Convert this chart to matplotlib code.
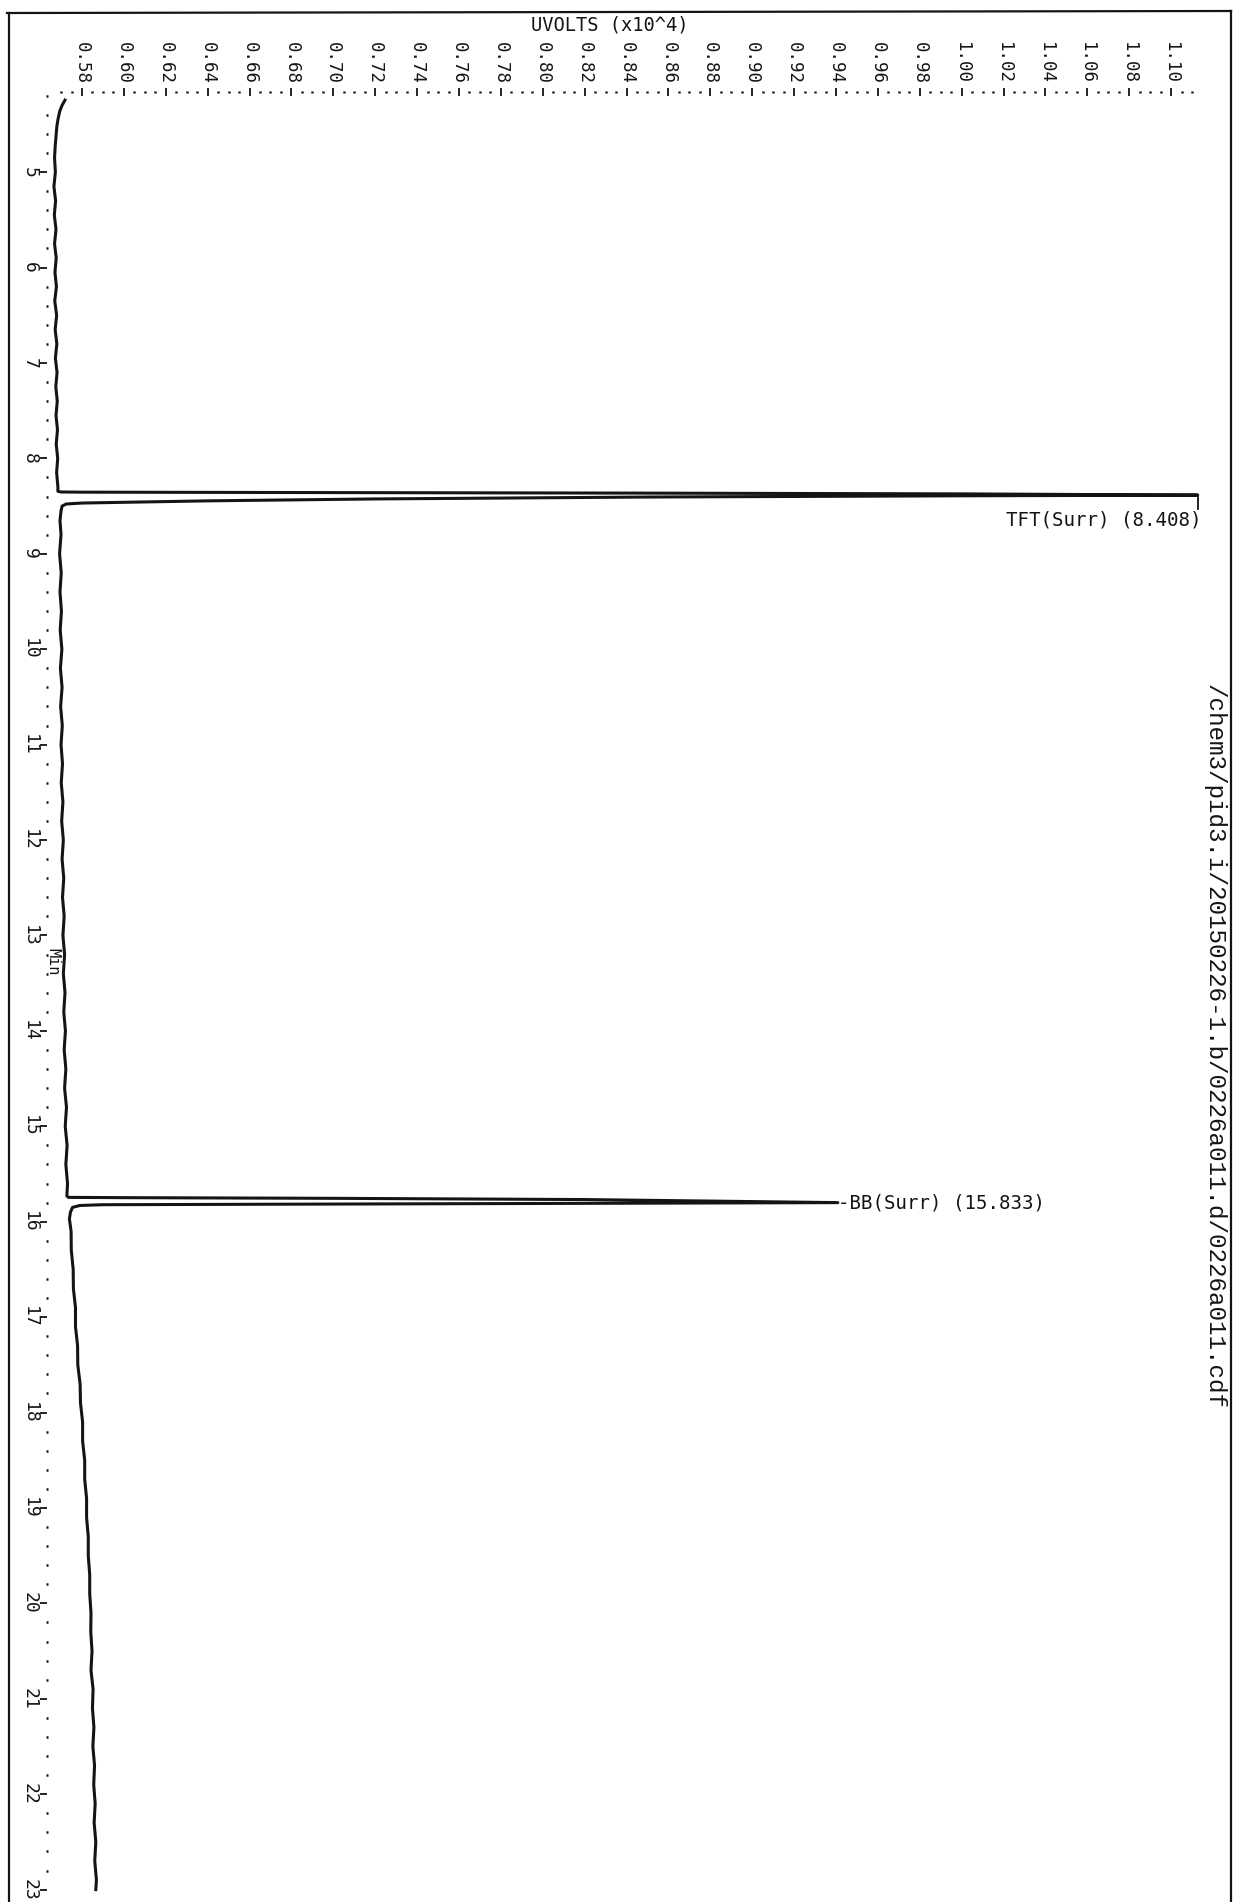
import numpy as np
import matplotlib
matplotlib.use("Agg")
import matplotlib.pyplot as plt
from matplotlib.lines import Line2D

W, H = 1236, 1902
MONO = "DejaVu Sans Mono"
INK = "#141414"

# chromatogram trace, time [min] vs signal [uV x10^4]
start_t = [4.245, 4.30, 4.36, 4.44, 4.52, 4.62, 4.73, 4.85, 5.00, 5.15, 5.30, 5.45,
           5.60, 5.75, 5.90, 6.05, 6.20, 6.35, 6.50, 6.65, 6.80, 6.95, 7.10, 7.25,
           7.40, 7.55, 7.70, 7.85, 8.00, 8.15, 8.30, 8.345]
start_uv = [0.5719, 0.5705, 0.5694, 0.5686, 0.5680, 0.5676, 0.5672, 0.5669, 0.5673, 0.5666,
            0.5674, 0.5668, 0.5676, 0.5669, 0.5677, 0.5671, 0.5678, 0.5670, 0.5679, 0.5672,
            0.5680, 0.5673, 0.5681, 0.5675, 0.5682, 0.5676, 0.5683, 0.5677, 0.5684, 0.5679,
            0.5685, 0.5685]

tft_t = [8.352, 8.354, 8.358, 8.364, 8.372, 8.385, 8.392, 8.405, 8.425, 8.445,
         8.460, 8.468, 8.478, 8.50]
tft_uv = [0.5700, 0.580, 0.70, 0.85, 1.00, 1.1127, 1.00, 0.85, 0.72, 0.64,
          0.600, 0.580, 0.5725, 0.5705]

mid_t = [8.55, 8.65, 8.80, 9.00, 9.20, 9.40, 9.60, 9.80, 10.00, 10.20, 10.40, 10.60,
         10.80, 11.00, 11.20, 11.40, 11.60, 11.80, 12.00, 12.20, 12.40, 12.60, 12.80,
         13.00, 13.20, 13.40, 13.60, 13.80, 14.00, 14.20, 14.40, 14.60, 14.80, 15.00,
         15.20, 15.40, 15.60, 15.73]
mid_uv = [0.5700, 0.5695, 0.5700, 0.5693, 0.5701, 0.5695, 0.5702, 0.5696, 0.5704, 0.5697,
          0.5705, 0.5698, 0.5706, 0.5700, 0.5707, 0.5701, 0.5709, 0.5703, 0.5711, 0.5705,
          0.5713, 0.5707, 0.5715, 0.5709, 0.5717, 0.5711, 0.5719, 0.5713, 0.5721, 0.5715,
          0.5723, 0.5717, 0.5726, 0.5720, 0.5729, 0.5723, 0.5731, 0.5728]

bb_t = [15.745, 15.748, 15.755, 15.768, 15.80, 15.806, 15.812, 15.818, 15.822, 15.83,
        15.85, 15.90]
bb_uv = [0.5735, 0.600, 0.70, 0.82, 0.9409, 0.84, 0.72, 0.63, 0.59, 0.579,
         0.5755, 0.5745]

tail_t = [15.97, 16.10, 16.30, 16.50, 16.70, 16.90, 17.10, 17.30, 17.50, 17.70, 17.90,
          18.10, 18.30, 18.50, 18.70, 18.90, 19.10, 19.30, 19.50, 19.70, 19.90, 20.10,
          20.30, 20.50, 20.70, 20.90, 21.10, 21.30, 21.50, 21.70, 21.90, 22.10, 22.30,
          22.50, 22.70, 22.90, 23.00]
tail_uv = [0.5740, 0.5748, 0.5749, 0.5758, 0.5759, 0.5769, 0.5769, 0.5779, 0.5780, 0.5791,
           0.5793, 0.5803, 0.5803, 0.5813, 0.5813, 0.5822, 0.5822, 0.5830, 0.5830, 0.5837,
           0.5837, 0.5843, 0.5842, 0.5848, 0.5843, 0.5853, 0.5850, 0.5857, 0.5852, 0.5860,
           0.5856, 0.5863, 0.5858, 0.5866, 0.5861, 0.5869, 0.5866]

uv_ticks = [0.58, 0.60, 0.62, 0.64, 0.66, 0.68, 0.70, 0.72, 0.74, 0.76, 0.78, 0.80, 0.82, 0.84,
            0.86, 0.88, 0.90, 0.92, 0.94, 0.96, 0.98, 1.00, 1.02, 1.04, 1.06, 1.08, 1.10]
min_ticks = [5, 6, 7, 8, 9, 10, 11, 12, 13, 14, 15, 16, 17, 18, 19, 20, 21, 22, 23]

peaks = [("TFT(Surr) (8.408)", 8.39, 1.1127), ("BB(Surr) (15.833)", 15.80, 0.9409)]
file_path = "/chem3/pid3.i/20150226-1.b/0226a011.d/0226a011.cdf"

fig = plt.figure(figsize=(W / 100, H / 100), dpi=100)
fig.patch.set_facecolor("white")

# page frame
for xs, ys in [((9, 9), (13, H)), ((7, 1231), (13, 11)), ((1231, 1231), (11, H))]:
    fig.add_artist(Line2D([x / W for x in xs], [1 - y / H for y in ys],
                          transform=fig.transFigure, color=INK, lw=1.6))

ax = fig.add_axes([47 / W, 0, (1213 - 47) / W, 1 - 92 / H])
ax.set_xlim(0.5633, 1.12)
ax.set_ylim(23.13, 4.16)
for s in ax.spines.values():
    s.set_visible(False)

t = np.concatenate([start_t, tft_t, mid_t, bb_t, tail_t])
uv = np.concatenate([start_uv, tft_uv, mid_uv, bb_uv, tail_uv])
ax.plot(uv, t, color=INK, lw=2.2, solid_joinstyle="round", clip_on=False)

# top axis: signal
ax.xaxis.tick_top()
ax.set_xticks(uv_ticks)
ax.set_xticklabels(["%.2f" % v for v in uv_ticks], family=MONO, fontsize=12.5, rotation=-90)
ax.set_xticks(np.arange(0.570, 1.1101, 0.005), minor=True)
ax.tick_params(axis="x", which="major", direction="inout", length=6, width=1.3,
               pad=3, colors=INK)
ax.tick_params(axis="x", which="minor", direction="inout", length=1.6, width=1.8, colors=INK)

# left axis: time
ax.set_yticks(min_ticks)
ax.set_yticklabels([str(m) for m in min_ticks], family=MONO, fontsize=13, rotation=-90)
for lbl in ax.get_yticklabels():
    lbl.set_va("center")
ax.set_yticks(np.arange(4.2, 23.01, 0.2), minor=True)
ax.tick_params(axis="y", which="major", direction="out", length=5, width=1.3, pad=1,
               colors=INK)
ax.tick_params(axis="y", which="minor", direction="inout", length=1.6, width=1.8, colors=INK)

ax.text(0.5633 + 6 * 0.02 / 41.9, 13.28, "Min", family=MONO, fontsize=11, rotation=-90,
        ha="center", va="center", color=INK)

fig.text(610 / W, 1 - 25 / H, "UVOLTS (x10^4)", family=MONO, fontsize=13.5,
         ha="center", va="center", color=INK)

# peak annotations
name, pt, pv = peaks[0]
ax.plot([pv, pv], [pt, 8.53], color=INK, lw=1.3, clip_on=False)
ax.text(pv + 0.002, 8.645, name, family=MONO, fontsize=13.8, ha="right", va="center", color=INK)
name, pt, pv = peaks[1]
ax.text(pv, pt, "-" + name, family=MONO, fontsize=13.7, ha="left", va="center", color=INK)

fig.text(1214 / W, 1 - 1046 / H, file_path, family=["Liberation Mono", MONO], fontsize=17.5,
         rotation=-90, ha="center", va="center", color=INK)

fig.savefig("out.png", dpi=100, facecolor="white")
